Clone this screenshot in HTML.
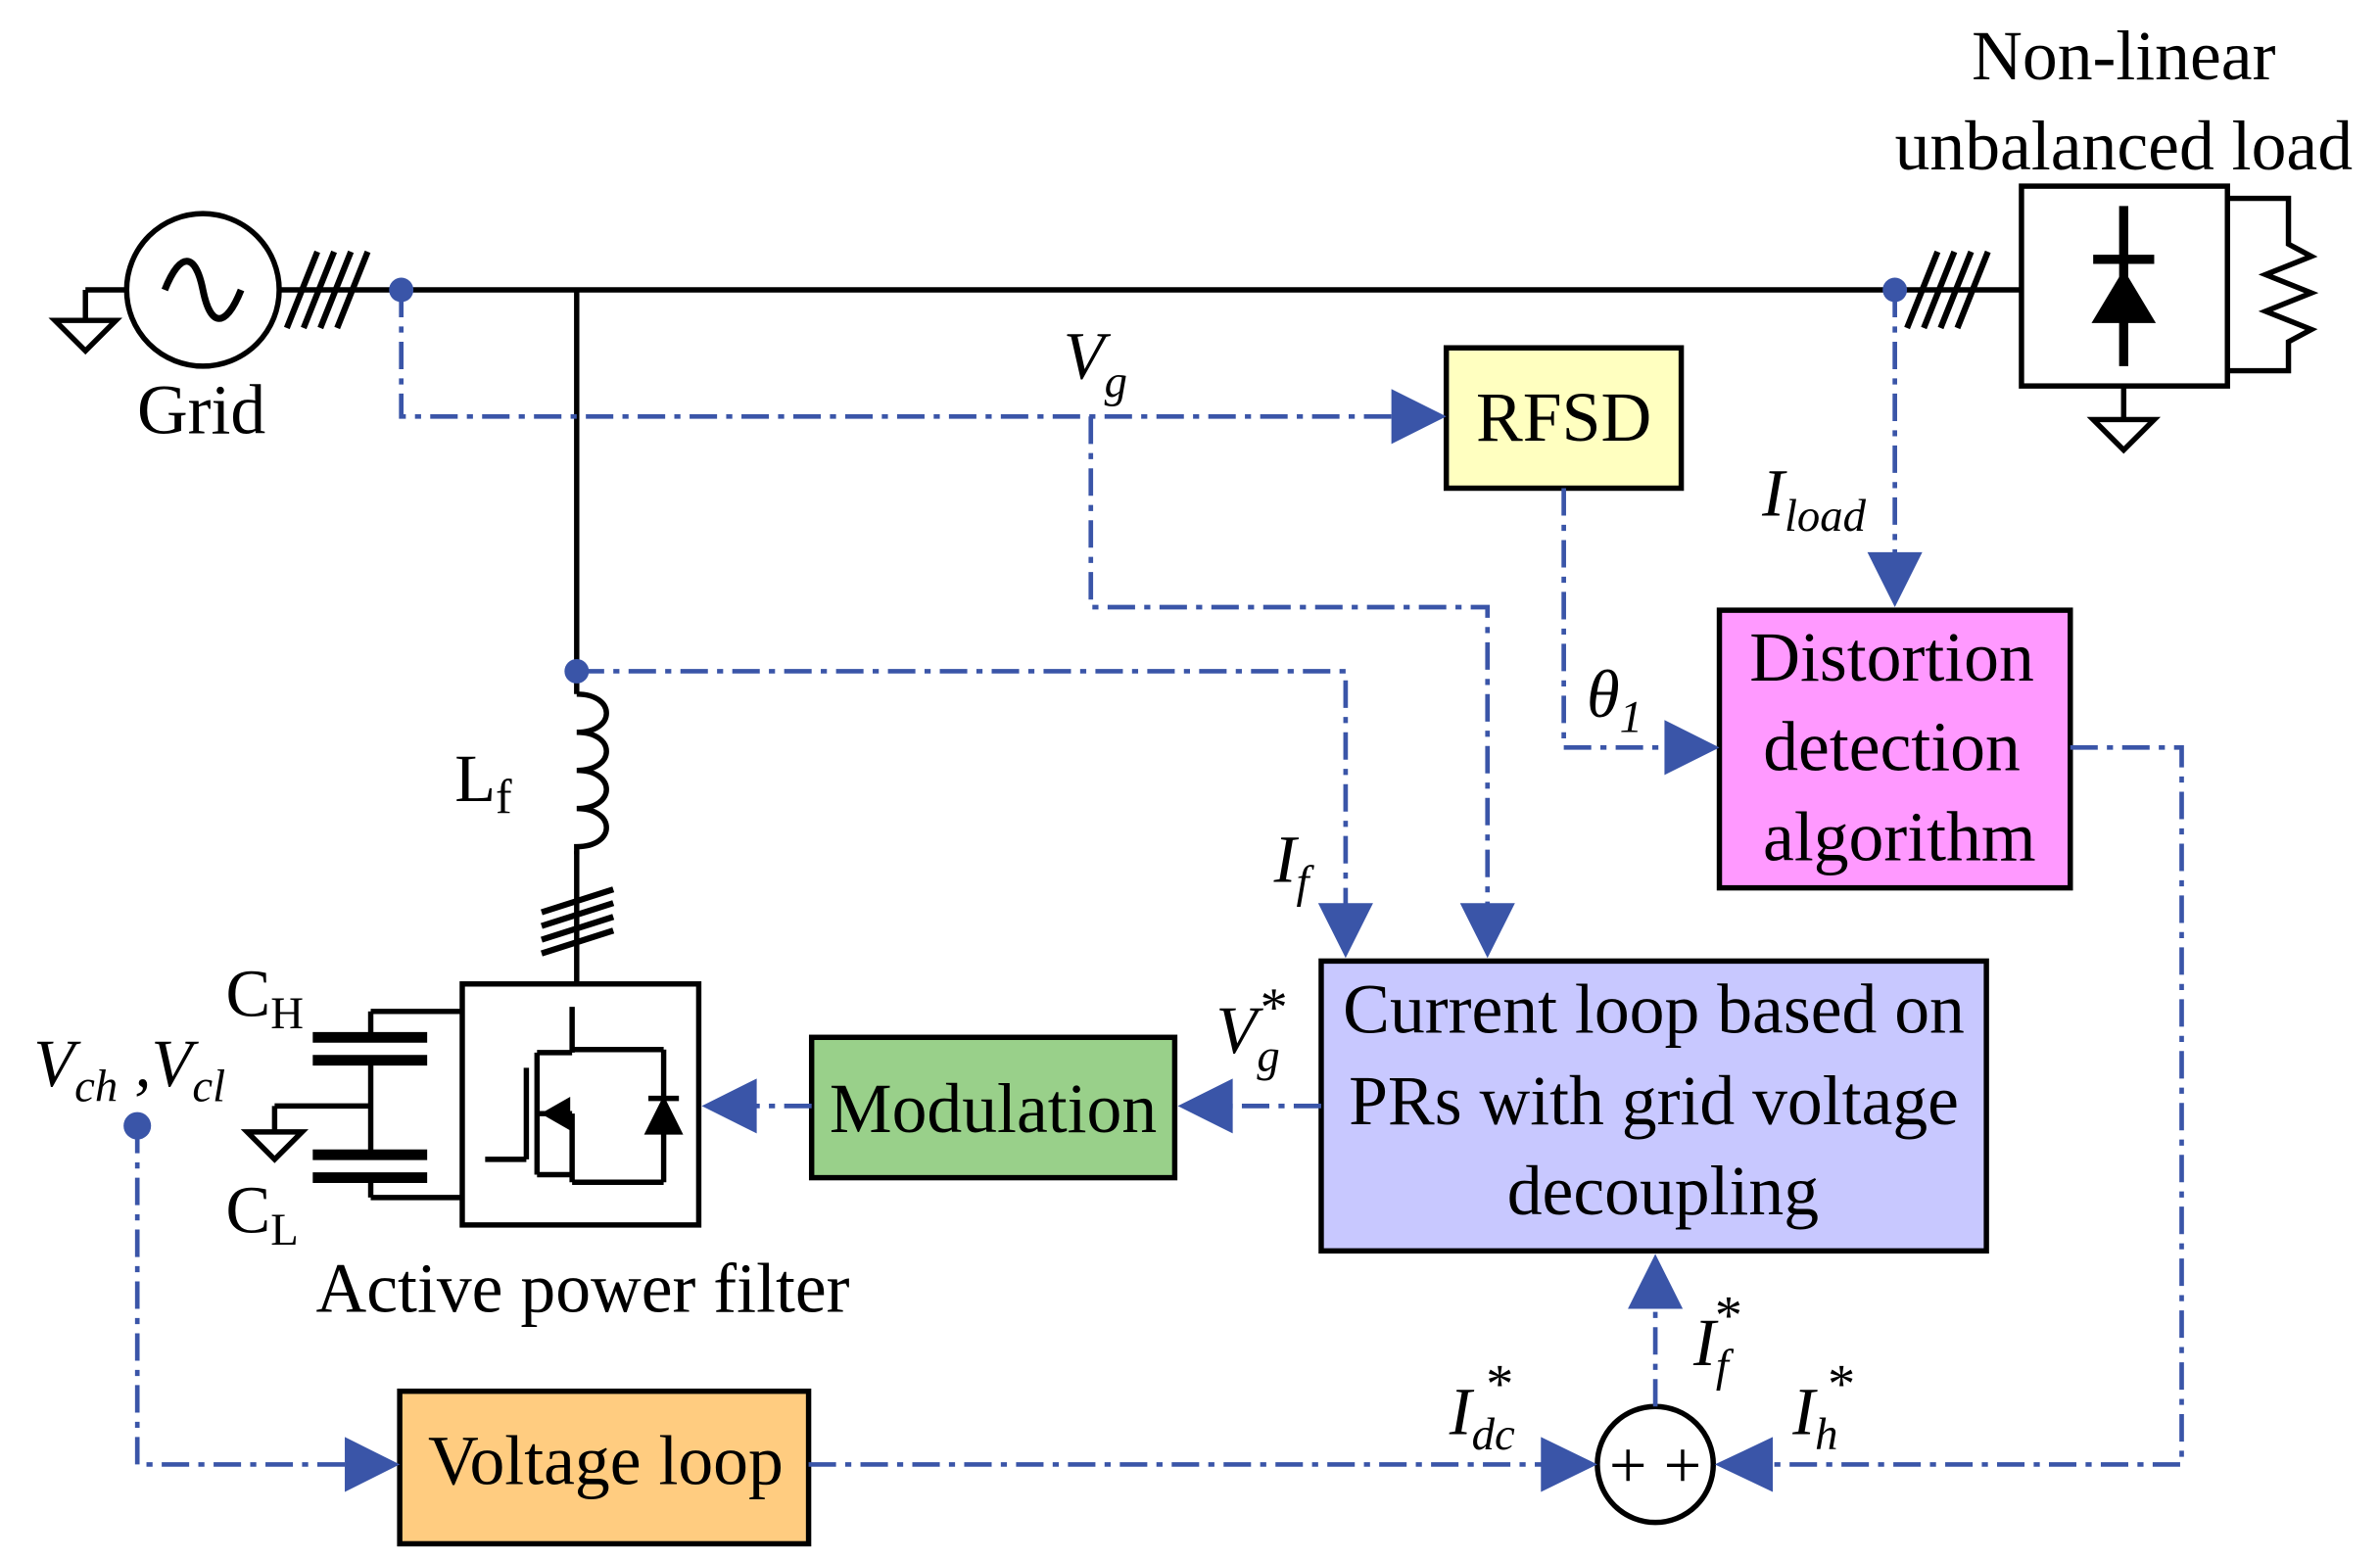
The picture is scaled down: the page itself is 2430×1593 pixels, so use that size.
<!DOCTYPE html>
<html><head><meta charset="utf-8"><style>html,body{margin:0;padding:0;background:#fff}svg{display:block}</style></head>
<body>
<svg width="2430" height="1593" viewBox="0 0 1560 1022.6" xmlns="http://www.w3.org/2000/svg" font-family="Liberation Serif, serif">
<g stroke="#000" stroke-width="3.5" fill="none">
<line x1="56" y1="190" x2="83" y2="190"/><line x1="56" y1="190" x2="56" y2="210"/>
<polygon points="36,210 76,210 56,230"/>
<circle cx="133" cy="190" r="50"/>
<path d="M108,190 C118,165 128,165 133,190 C138,215 148,215 158,190" stroke-width="4.5"/>
<line x1="183" y1="190" x2="1325" y2="190"/>
<g stroke-width="4"><line x1="188" y1="215" x2="208" y2="165"/><line x1="199" y1="215" x2="219" y2="165"/><line x1="210" y1="215" x2="230" y2="165"/><line x1="221" y1="215" x2="241" y2="165"/></g>
<g stroke-width="4"><line x1="1250" y1="215" x2="1270" y2="165"/><line x1="1261" y1="215" x2="1281" y2="165"/><line x1="1272" y1="215" x2="1292" y2="165"/><line x1="1283" y1="215" x2="1303" y2="165"/></g>
<line x1="378" y1="190" x2="378" y2="455"/>
<path d="M378,455 c26,0 26,25 0,25 c26,0 26,25 0,25 c26,0 26,25 0,25 c26,0 26,25 0,25 l0,5"/>
<line x1="378" y1="558" x2="378" y2="645"/>
<g stroke-width="4"><line x1="355" y1="598" x2="402" y2="583"/><line x1="355" y1="607" x2="402" y2="592"/><line x1="355" y1="616" x2="402" y2="601"/><line x1="355" y1="625" x2="402" y2="610"/></g>
<rect x="303" y="645" width="155" height="158"/>
<line x1="318" y1="760" x2="345" y2="760"/><line x1="345" y1="700" x2="345" y2="760"/>
<line x1="352" y1="690" x2="352" y2="770"/>
<line x1="352" y1="690" x2="375" y2="690"/><line x1="375" y1="660" x2="375" y2="690"/>
<line x1="352" y1="730" x2="375" y2="730"/><line x1="375" y1="730" x2="375" y2="775"/>
<line x1="352" y1="770" x2="375" y2="770"/><line x1="375" y1="688" x2="435" y2="688"/><line x1="435" y1="688" x2="435" y2="775"/><line x1="375" y1="775" x2="435" y2="775"/>
<polygon points="358,730 372,722 372,738" fill="#000"/>
<polygon points="425,742 445,742 435,722" fill="#000"/><line x1="425" y1="720" x2="445" y2="720"/>
<line x1="303" y1="663" x2="243" y2="663"/><line x1="243" y1="663" x2="243" y2="678"/>
<line x1="205" y1="680" x2="280" y2="680" stroke-width="7"/><line x1="205" y1="695" x2="280" y2="695" stroke-width="7"/>
<line x1="243" y1="697" x2="243" y2="755"/>
<line x1="205" y1="757" x2="280" y2="757" stroke-width="7"/><line x1="205" y1="772" x2="280" y2="772" stroke-width="7"/>
<line x1="243" y1="774" x2="243" y2="785"/><line x1="243" y1="785" x2="303" y2="785"/>
<line x1="243" y1="725" x2="180" y2="725"/><line x1="180" y1="725" x2="180" y2="742"/>
<polygon points="162,742 198,742 180,760"/>
<rect x="1325" y="122" width="135" height="131"/>
<line x1="1392" y1="135" x2="1392" y2="240" stroke-width="6"/>
<line x1="1372" y1="170" x2="1412" y2="170" stroke-width="6"/>
<polygon points="1374,210 1410,210 1392,180" fill="#000"/>
<line x1="1392" y1="253" x2="1392" y2="275"/>
<polygon points="1372,275 1412,275 1392,295"/>
<polyline points="1460,130 1500,130 1500,160 1515,168 1485,180 1515,192 1485,204 1515,216 1500,224 1500,243 1460,243"/>
<circle cx="1085" cy="960" r="38"/>
</g>
<g font-size="44" text-anchor="middle" fill="#000"><text x="1085" y="975">+ +</text></g>
<g stroke="#000" stroke-width="3.5">
<rect x="948" y="228" width="154" height="92" fill="#ffffc0"/>
<rect x="1127" y="400" width="230" height="182" fill="#ff99ff"/>
<rect x="866" y="630" width="436" height="190" fill="#c8c8ff"/>
<rect x="532" y="680" width="238" height="92" fill="#99d08a"/>
<rect x="262" y="912" width="268" height="100" fill="#ffcc80"/>
</g>
<g stroke="#3a55a8" stroke-width="3" fill="none" stroke-dasharray="18,6,4,6">
<polyline points="263,190 263,273 918,273"/>
<polyline points="715,273 715,398 975,398 975,598"/>
<polyline points="378,440 882,440 882,598"/>
<polyline points="1025,320 1025,490 1095,490"/>
<polyline points="1242,190 1242,368"/>
<polyline points="1357,490 1430,490 1430,960 1155,960"/>
<polyline points="90,738 90,960 230,960"/>
<polyline points="530,960 1015,960"/>
<polyline points="1085,922 1085,858"/>
<polyline points="866,725 805,725"/>
<polyline points="532,725 492,725"/>
</g>
<g fill="#3a55a8">
<circle cx="263" cy="190" r="8"/><circle cx="1242" cy="190" r="8"/><circle cx="378" cy="440" r="8"/><circle cx="90" cy="738" r="9"/>
<polygon points="912,255 948,273 912,291"/>
<polygon points="957,592 993,592 975,628"/>
<polygon points="864,592 900,592 882,628"/>
<polygon points="1091,472 1127,490 1091,508"/>
<polygon points="1224,362 1260,362 1242,398"/>
<polygon points="1162,942 1124,960 1162,978"/>
<polygon points="226,942 262,960 226,978"/>
<polygon points="1010,942 1047,960 1010,978"/>
<polygon points="1067,858 1103,858 1085,822"/>
<polygon points="808,707 772,725 808,743"/>
<polygon points="496,707 460,725 496,743"/>
</g>
<g fill="#000" font-size="46" text-anchor="middle">
<text x="1025" y="289">RFSD</text>
<text x="1240" y="446">Distortion</text>
<text x="1240" y="505">detection</text>
<text x="1245" y="564">algorithm</text>
<text x="1084" y="677">Current loop based on</text>
<text x="1084" y="737">PRs with grid voltage</text>
<text x="1090" y="796">decoupling</text>
<text x="651" y="742">Modulation</text>
<text x="397" y="973">Voltage loop</text>
<text x="1392" y="52">Non-linear</text>
<text x="1392" y="111">unbalanced load</text>
<text x="132" y="284">Grid</text>
<text x="382" y="860">Active power filter</text>
</g>
<g fill="#000" font-size="44">
<text x="298" y="525">L<tspan font-size="32" dy="8">f</tspan></text>
<text x="148" y="666">C<tspan font-size="30" dy="8">H</tspan></text>
<text x="148" y="808">C<tspan font-size="30" dy="8">L</tspan></text>
</g>
<g fill="#000" font-size="44" font-style="italic">
<text x="697" y="248">V<tspan font-size="30" dy="12">g</tspan></text>
<text x="1155" y="338">I<tspan font-size="30" dy="10">load</tspan></text>
<text x="1040" y="470">θ<tspan font-size="30" dy="10">1</tspan></text>
<text x="835" y="578">I<tspan font-size="30" dy="10">f</tspan></text>
<text x="797" y="690">V<tspan font-size="30" dy="12">g</tspan></text>
<text x="826" y="672" font-size="36" font-style="normal">*</text>
<text x="22" y="712">V<tspan font-size="30" dy="10">ch</tspan><tspan dy="-10"> ,V</tspan><tspan font-size="30" dy="10">cl</tspan></text>
<text x="950" y="940">I<tspan font-size="30" dy="10">dc</tspan></text>
<text x="974" y="919" font-size="36" font-style="normal">*</text>
<text x="1110" y="895">I<tspan font-size="30" dy="10">f</tspan></text>
<text x="1124" y="874" font-size="36" font-style="normal">*</text>
<text x="1175" y="940">I<tspan font-size="30" dy="10">h</tspan></text>
<text x="1198" y="919" font-size="36" font-style="normal">*</text>
</g>
</svg>
</body></html>
